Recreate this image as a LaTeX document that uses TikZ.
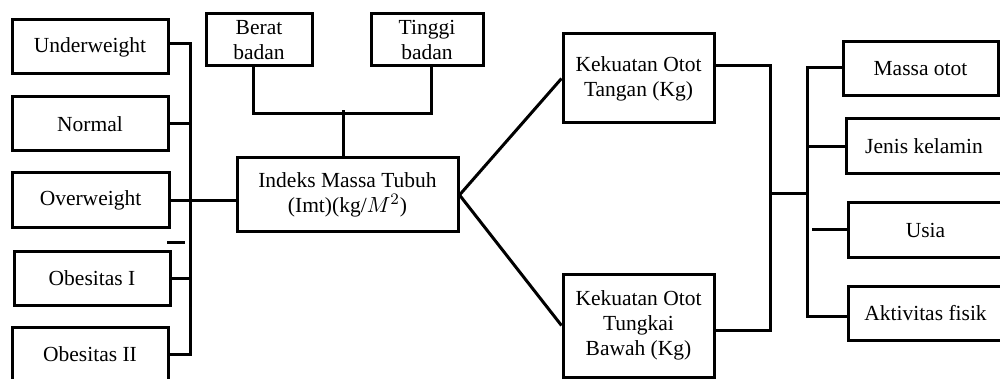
\documentclass[tikz,border=0pt]{standalone}
\usepackage{fontspec}
\setmainfont{Liberation Serif}
\usetikzlibrary{positioning}

\begin{document}
\begin{tikzpicture}[x=0.5pt, y=-0.5pt,
  box/.style={draw, line width=1.5pt, align=center, inner sep=2pt,
              font=\fontsize{10.75}{12.5}\selectfont},
  line/.style={line width=1.5pt}
]
\useasboundingbox (0,0) rectangle (1000,379);

% left column: categories
\node[box, minimum width=78pt, minimum height=27pt] (under) at (90,47) {Underweight};
\node[box, minimum width=78pt, minimum height=27pt] (normal) at (90,124) {Normal};
\node[box, minimum width=78.5pt, minimum height=27.5pt] (over) at (90.5,200.5) {Overweight};
\node[box, minimum width=78pt, minimum height=27pt] (ob1) at (92,278) {Obesitas I};
\node[box, minimum width=78pt, minimum height=27pt] (ob2) at (90,354) {Obesitas II};

% top inputs and IMT
\node[box, minimum width=53pt, minimum height=26pt] (berat) at (259,40) {Berat\\badan};
\node[box, minimum width=56pt, minimum height=26pt] (tinggi) at (427,40) {Tinggi\\badan};
\node[box, minimum width=110.5pt, minimum height=37pt] (imt) at (347.5,195)
  {Indeks Massa Tubuh\\(Imt)(kg/$M^2$)};

% muscle strength
\node[box, minimum width=75.5pt, minimum height=44.5pt] (tangan) at (638.5,78.5)
  {Kekuatan Otot\\Tangan (Kg)};
\node[box, minimum width=75.5pt, minimum height=51.5pt] (tungkai) at (638.5,325.5)
  {Kekuatan Otot\\Tungkai\\Bawah (Kg)};

% right column: factors
\node[box, minimum width=77.5pt, minimum height=27pt] (massa) at (920.5,69) {Massa otot};
\node[box, minimum width=77.5pt, minimum height=27.5pt] (jenis) at (924,146.5) {Jenis kelamin};
\node[box, minimum width=77.5pt, minimum height=27pt] (usia) at (925.5,230) {Usia};
\node[box, minimum width=77.5pt, minimum height=27pt] (aktif) at (925.5,313) {Aktivitas fisik};

\coordinate (lbus) at (190,200);
\coordinate (rbus) at (770,194);
\coordinate (fbus) at (807,194);
\coordinate (dashL) at (167,242);
\coordinate (dashR) at (185,242);

% left bracket
\draw[line] ([yshift=1.5pt]under.east) -| (lbus) |- (ob2.east);
\draw[line] (normal.east) -- (normal.east -| lbus);
\draw[line] (ob1.east) -- (ob1.east -| lbus);
\draw[line] (over.east) -- (over.east -| imt.west);
\draw[line] (dashL) -- (dashR);

% inputs to IMT
\draw[line] ([xshift=-3pt]berat.south) |- ++(0,-23pt) -| ([xshift=2pt]tinggi.south);
\draw[line] ([xshift=-2pt]imt.north) -- ++(0,23pt);

% IMT to strength
\draw[line] (imt.east) -- (tangan.west);
\draw[line] (imt.east) -- (tungkai.west);

% strength to factors
\draw[line] ([yshift=6.5pt]tangan.east) -| (rbus) |- ([yshift=-2.5pt]tungkai.east);
\draw[line] (rbus) -- (fbus);
\draw[line] ([yshift=0.5pt]massa.west) -| (fbus) |- ([yshift=-1.5pt]aktif.west);
\draw[line] (jenis.west) -- (jenis.west -| fbus);
\draw[line] ([xshift=2.5pt]usia.west -| fbus) -- (usia.west);
\end{tikzpicture}
\end{document}
